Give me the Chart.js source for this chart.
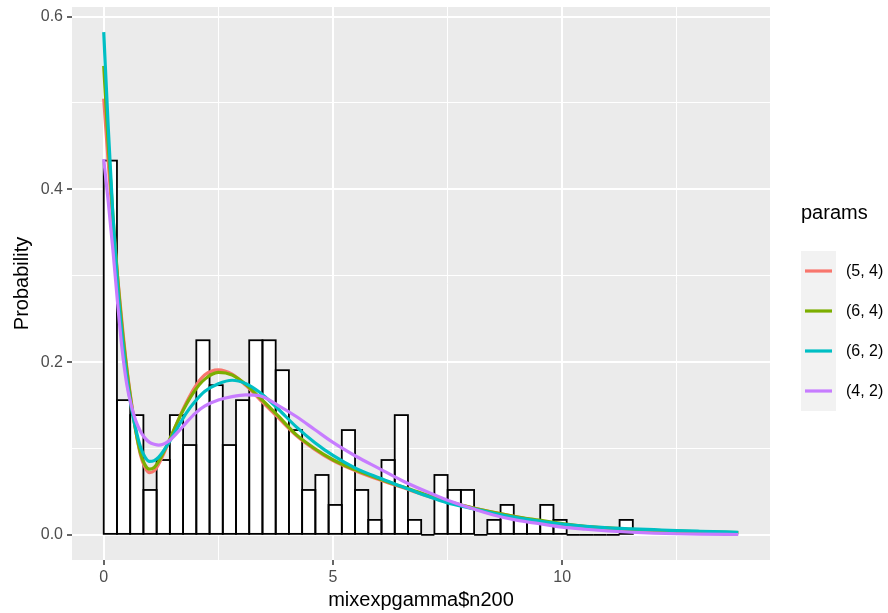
<!DOCTYPE html>
<html>
<head>
<meta charset="utf-8">
<script src="https://cdn.jsdelivr.net/npm/chart.js@4.4.1/dist/chart.umd.min.js"></script>
<style>
html,body{margin:0;padding:0;background:#ffffff;}
#wrap{width:888px;height:613px;position:relative;}
</style>
</head>
<body>
<div id="wrap"><canvas id="c" width="888" height="613"></canvas></div>
<script>
// ---------- data ----------
const sampleSize = 200;
const binStart = 0;
const binWidth = 0.2885;
const binCounts = [25, 9, 8, 3, 5, 8, 6, 13, 10, 6, 9, 13, 13, 11, 7, 3, 4, 2, 7, 3,
                   1, 5, 8, 1, 0, 4, 3, 3, 0, 1, 2, 1, 1, 2, 1, 0, 0, 0, 0, 1];

const curveX = [0, 0.1, 0.2, 0.3, 0.4, 0.5, 0.6, 0.7, 0.8, 0.9, 1.0, 1.1, 1.2, 1.4, 1.6, 1.8, 2.0, 2.2,
                2.5, 2.8, 3.1, 3.4, 3.8, 4.2, 4.6, 5.0, 5.5, 6.0, 6.5, 7.0, 7.5, 8.0, 8.5, 9.0, 9.5,
                10, 10.5, 11, 11.5, 12, 12.5, 13, 13.84];
const curve54 = [.505,.43,.36,.30,.245,.195,.155,.12,.093,.078,.072,.074,.082,.105,.13,.153,.172,.185,
                 .191,.186,.173,.157,.136,.115,.099,.086,.074,.064,.055,.046,.038,.032,.026,.021,.016,
                 .012,.0095,.0075,.006,.0048,.0038,.003,.002];
const curve64 = [.543,.45,.37,.30,.24,.193,.153,.12,.095,.081,.076,.078,.085,.106,.13,.151,.168,.18,
                 .188,.185,.174,.159,.138,.116,.100,.087,.075,.065,.056,.047,.039,.032,.026,.021,.017,
                 .013,.010,.008,.0065,.0053,.0043,.0035,.0025];
const curve62 = [.582,.47,.37,.29,.23,.183,.148,.122,.102,.09,.085,.086,.09,.105,.123,.141,.155,.166,
                 .175,.179,.175,.165,.146,.125,.107,.092,.077,.066,.056,.046,.037,.031,.025,.020,.016,
                 .0125,.0098,.0081,.007,.006,.005,.0042,.003];
const curve42 = [.435,.385,.33,.27,.215,.175,.15,.132,.12,.112,.107,.105,.104,.108,.118,.13,.141,.149,
                 .156,.16,.162,.161,.150,.137,.122,.107,.091,.077,.063,.051,.040,.031,.023,.017,.013,
                 .009,.0065,.0045,.003,.002,.0013,.0008,.0004];

const seriesLabels = ['(5, 4)', '(6, 4)', '(6, 2)', '(4, 2)'];
const seriesValues = [curve54, curve64, curve62, curve42];
const seriesColors = ['#F8766D', '#7CAE00', '#00BFC4', '#C77CFF'];

const xMajorTicks = [0, 5, 10];
const xMinorTicks = [2.5, 7.5, 12.5];
const yMajorTicks = [0, 0.2, 0.4, 0.6];
const yMinorTicks = [0.1, 0.3, 0.5];
const xLimits = [-0.692, 14.532];
const yLimits = [-0.0291, 0.6111];

const legendTitle = 'params';
const xTitle = 'mixexpgamma$n200';
const yTitle = 'Probability';

// ---------- build datasets ----------
const histData = binCounts.map((c, i) => ({
  x: binStart + (i + 0.5) * binWidth,
  y: c / (sampleSize * binWidth)
}));

const FONT = '"Liberation Sans", Arial, Helvetica, sans-serif';

const lineSets = seriesValues.map((vals, s) => ({
  type: 'line',
  label: seriesLabels[s],
  data: vals.map((v, i) => ({ x: curveX[i], y: v })),
  borderColor: seriesColors[s],
  backgroundColor: seriesColors[s],
  borderWidth: 3.2,
  pointRadius: 0,
  fill: false,
  cubicInterpolationMode: 'monotone',
  order: 4 - s,
  borderCapStyle: 'butt',
  borderJoinStyle: 'round'
}));

const panelBg = {
  id: 'panelBg',
  beforeDraw(chart) {
    const { ctx, chartArea: a } = chart;
    ctx.save();
    ctx.fillStyle = '#EBEBEB';
    ctx.fillRect(a.left, a.top, a.right - a.left, a.bottom - a.top);
    ctx.restore();
  }
};

const histOutline = {
  id: 'histOutline',
  afterDatasetDraw(chart, args) {
    if (args.index !== 0) return;
    const { ctx } = chart;
    const meta = args.meta;
    ctx.save();
    ctx.strokeStyle = '#000000';
    ctx.lineWidth = 1.8;
    meta.data.forEach(el => {
      const p = el.getProps(['x', 'y', 'base', 'width'], true);
      const l = p.x - p.width / 2, r = p.x + p.width / 2;
      const t = Math.min(p.y, p.base), b = Math.max(p.y, p.base);
      ctx.strokeRect(l, t, r - l, b - t);
    });
    ctx.restore();
  }
};

const ggLegend = {
  id: 'ggLegend',
  afterDraw(chart) {
    const { ctx } = chart;
    ctx.save();
    ctx.fillStyle = '#000000';
    ctx.font = '20px ' + FONT;
    ctx.textAlign = 'left';
    ctx.textBaseline = 'alphabetic';
    ctx.fillText(legendTitle, 801, 219);
    const keyX = 801, keyTop = 251, keyW = 35, keyH = 40;
    seriesLabels.forEach((lab, i) => {
      const y0 = keyTop + i * keyH;
      ctx.fillStyle = '#F2F2F2';
      ctx.fillRect(keyX, y0, keyW, keyH);
      ctx.strokeStyle = seriesColors[i];
      ctx.lineWidth = 3.2;
      ctx.beginPath();
      ctx.moveTo(keyX + 4, y0 + keyH / 2);
      ctx.lineTo(keyX + keyW - 4, y0 + keyH / 2);
      ctx.stroke();
      ctx.fillStyle = '#000000';
      ctx.font = '16px ' + FONT;
      ctx.textBaseline = 'middle';
      ctx.fillText(lab, keyX + keyW + 10, y0 + keyH / 2 + 1);
    });
    ctx.restore();
  }
};

const isIn = (arr, v) => arr.some(a => Math.abs(a - v) < 1e-9);

new Chart(document.getElementById('c'), {
  type: 'bar',
  data: {
    datasets: [
      {
        type: 'bar',
        label: 'hist',
        data: histData,
        backgroundColor: '#FFFFFF',
        borderWidth: 0,
        barPercentage: 1.0,
        categoryPercentage: 1.0,
        order: 10
      },
      ...lineSets
    ]
  },
  options: {
    responsive: false,
    animation: false,
    devicePixelRatio: 1,
    layout: { padding: { left: 0, right: 118, top: 7, bottom: 0 } },
    plugins: {
      legend: { display: false },
      tooltip: { enabled: false }
    },
    scales: {
      x: {
        type: 'linear',
        offset: false,
        min: xLimits[0],
        max: xLimits[1],
        afterBuildTicks: s => { s.ticks = [...xMajorTicks, ...xMinorTicks].sort((a, b) => a - b).map(v => ({ value: v })); },
        afterFit: s => { s.height = 53; s.paddingLeft = 0; s.paddingRight = 0; },
        border: { display: false },
        grid: {
          offset: false,
          color: '#FFFFFF',
          lineWidth: c => (c.tick && isIn(xMajorTicks, c.tick.value)) ? 2 : 1,
          tickColor: c => (c.tick && isIn(xMajorTicks, c.tick.value)) ? '#333333' : 'rgba(0,0,0,0)',
          tickLength: 5,
          tickWidth: 1.5,
          drawTicks: true
        },
        ticks: {
          autoSkip: false,
          maxRotation: 0,
          padding: 3,
          color: '#4D4D4D',
          font: { family: FONT, size: 16 },
          callback: v => isIn(xMajorTicks, v) ? String(v) : ''
        },
        title: {
          display: true,
          text: xTitle,
          color: '#000000',
          font: { family: FONT, size: 20 },
          padding: { top: 0, bottom: 1 }
        }
      },
      y: {
        type: 'linear',
        min: yLimits[0],
        max: yLimits[1],
        afterBuildTicks: s => { s.ticks = [...yMajorTicks, ...yMinorTicks].sort((a, b) => a - b).map(v => ({ value: v })); },
        afterFit: s => { s.width = 72; s.paddingTop = 0; s.paddingBottom = 0; },
        border: { display: false },
        grid: {
          offset: false,
          color: '#FFFFFF',
          lineWidth: c => (c.tick && isIn(yMajorTicks, c.tick.value)) ? 2 : 1,
          tickColor: c => (c.tick && isIn(yMajorTicks, c.tick.value)) ? '#333333' : 'rgba(0,0,0,0)',
          tickLength: 5,
          tickWidth: 1.5,
          drawTicks: true
        },
        ticks: {
          autoSkip: false,
          padding: 4,
          color: '#4D4D4D',
          font: { family: FONT, size: 16 },
          callback: v => isIn(yMajorTicks, v) ? v.toFixed(1) : ''
        },
        title: {
          display: true,
          text: yTitle,
          color: '#000000',
          font: { family: FONT, size: 20 },
          padding: { top: 10, bottom: 0 }
        }
      }
    }
  },
  plugins: [panelBg, histOutline, ggLegend]
});
</script>
</body>
</html>
